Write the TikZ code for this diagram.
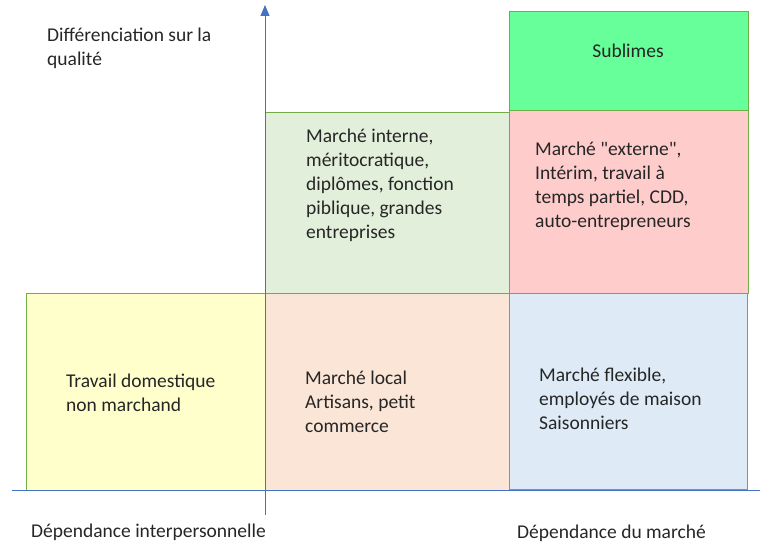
\documentclass[tikz,border=0pt]{standalone}
\usepackage{fontspec}
\newfontfamily\cellfont{Carlito}
\usepackage{tikz}
\usetikzlibrary{positioning,arrows.meta}
\definecolor{axisblue}{HTML}{4472C4}
\definecolor{edgegreen}{HTML}{70AD47}
\definecolor{fillyellow}{HTML}{FFFFCC}
\definecolor{fillpeach}{HTML}{FBE5D6}
\definecolor{fillsage}{HTML}{E2EFDA}
\definecolor{fillpink}{HTML}{FFCCCC}
\definecolor{fillmint}{HTML}{66FF99}
\definecolor{fillsky}{HTML}{DEEBF7}
\definecolor{textgrey}{HTML}{262626}
\tikzstyle{cell} = [rectangle, draw=edgegreen, line width=0.9pt, anchor=north west, inner sep=0pt]
\tikzstyle{caption} = [anchor=base west, align=left, inner sep=0pt, text=textgrey, font=\cellfont\fontsize{19.5}{24}\selectfont]
\tikzstyle{axis} = [draw=axisblue, line width=1pt]

\begin{document}
\begin{tikzpicture}[x=1pt, y=-1pt]
\useasboundingbox (0,0) rectangle (760,543);
% Cells
	%	lower row
    \node [cell, fill=fillyellow, minimum width=239pt, minimum height=197pt] (domestic) at (26,293) {};
    \node [cell, fill=fillpeach, minimum width=244pt, minimum height=197pt] (local) at (265,293) {};
    \node [cell, fill=fillsky, minimum width=238pt, minimum height=196pt] (flexible) at (509,293) {};
    %	upper row
    \node [cell, fill=fillsage, minimum width=244pt, minimum height=181pt] (internal) at (265,112) {};
    \node [cell, fill=fillpink, minimum width=239pt, minimum height=183pt] (external) at (509,110) {};
    \node [cell, fill=fillmint, minimum width=239pt, minimum height=99pt] (sublime) at (509,11) {};
% Axes
    \coordinate (xstart) at (12,490);
    \coordinate (xend) at (760,490);
    \coordinate (ystart) at (265,515);
    \coordinate (yend) at (265,5);
    \path [axis] (xstart) -- (xend);
    \path [axis, -{Triangle[length=11pt,width=9pt]}] (ystart) -- (yend);
% Texts (anchored on the baseline of the last line)
    \node [caption] (quality) at (47,66) {Différenciation sur la\\qualité};
    \node [caption] (domestictext) at (66,411) {Travail domestique\\non marchand};
    \node [caption] (localtext) at (305,432) {Marché local\\Artisans, petit\\commerce};
    \node [caption] (flexibletext) at (539,429) {Marché flexible,\\employés de maison\\Saisonniers};
    \node [caption] (internaltext) at (306,238) {Marché interne,\\méritocratique,\\diplômes, fonction\\piblique, grandes\\entreprises};
    \node [caption] (externaltext) at (535,227) {Marché "externe",\\Intérim, travail à\\temps partiel, CDD,\\auto-entrepreneurs};
    \node [caption, anchor=base] (sublimetext) at (628,57) {Sublimes};
    \node [caption] (interpersonal) at (31,537) {Dépendance interpersonnelle};
    \node [caption] (market) at (517,538) {Dépendance du marché};
\end{tikzpicture}
\end{document}
